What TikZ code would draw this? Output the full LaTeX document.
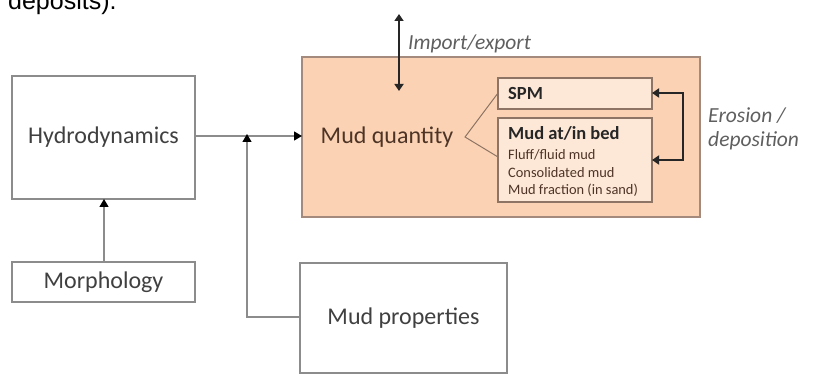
\documentclass[tikz,border=0pt]{standalone}
\usepackage{fontspec}
\setmainfont{Carlito}
\newfontfamily\captionfont{Liberation Sans}
\usetikzlibrary{arrows.meta}

\definecolor{boxline}{HTML}{8C8C8C}
\definecolor{txt}{HTML}{404040}
\definecolor{mudfill}{HTML}{FBD3B4}
\definecolor{mudline}{HTML}{A48A7C}
\definecolor{subfill}{HTML}{FDE8D8}
\definecolor{subline}{HTML}{8E7464}
\definecolor{mudtxt}{HTML}{4E3426}
\definecolor{note}{HTML}{5F5F5F}

\tikzset{
  plainbox/.style={draw=boxline, line width=1.4pt, fill=white},
  label/.style={text=txt, font=\fontsize{24}{26}\selectfont, inner sep=0pt},
  subbox/.style={draw=subline, line width=1.3pt, fill=subfill},
  link/.style={draw=boxline, line width=1.3pt, -{Triangle[length=8pt,width=9pt,color=black]}},
  flux/.style={draw=black!85, line width=2.6pt, {Triangle[length=7pt,width=9pt]}-{Triangle[length=7pt,width=9pt]}},
  italnote/.style={text=note, font=\itshape\fontsize{21.5}{24}\selectfont, inner sep=0pt, anchor=base west},
  boldline/.style={anchor=west, inner sep=0pt, text=black!85, font=\bfseries\fontsize{18.5}{20}\selectfont},
  smallline/.style={anchor=west, inner sep=0pt, text=mudtxt, font=\fontsize{14.4}{16}\selectfont},
}

\begin{document}
\begin{tikzpicture}[x=1pt, y=-1pt]
  \useasboundingbox (0,0) rectangle (829,379);

  % caption fragment at the top edge
  \begin{scope}
    \clip (0,0) rectangle (829,379);
    \node[anchor=base west, inner sep=0pt, text=black, font=\captionfont\fontsize{25}{28}\selectfont] (cap) at (8,10) {deposits).};
  \end{scope}

  % boxes
  \draw[plainbox] (12,76) rectangle (195,199);
  \node[label] (hydro) at (103.5,137.5) {Hydrodynamics};
  \draw[plainbox] (12,262) rectangle (195,302);
  \node[label] (morph) at (103.5,282) {Morphology};
  \draw[plainbox] (300,263) rectangle (507,373);
  \node[label] (props) at (403.5,318) {Mud properties};

  % mud quantity compartment
  \draw[draw=mudline, fill=mudfill, line width=1.3pt] (302,57) rectangle (700,217);
  \node[text=mudtxt, font=\fontsize{24}{26}\selectfont, inner sep=0pt] (qty) at (387,137) {Mud quantity};

  \draw[subbox] (498,78) rectangle (652,109);
  \node[boldline] (spm) at (508,93.5) {SPM};
  \draw[subbox] (498,118) rectangle (652,202);
  \node[boldline] (bed) at (508,133) {Mud at/in bed};
  \node[smallline] (fluff) at (508,155) {Fluff/fluid mud};
  \node[smallline] (cons) at (508,172.5) {Consolidated mud};
  \node[smallline] (frac) at (508,190) {Mud fraction (in sand)};

  % bracket from Mud quantity to its two parts
  \coordinate (fork) at (465,137);
  \coordinate (forkA) at (498,93);
  \coordinate (forkB) at (498,157);
  \draw[draw=subline, line width=1pt] (forkA) -- (fork) -- (forkB);

  % connectors
  \coordinate (hydroE) at (195,136);
  \coordinate (qtyW) at (302,136);
  \draw[link] (hydroE) -- (qtyW);
  \coordinate (join) at (247,136);
  \coordinate (propsW) at (300,317);
  \draw[link] (propsW) -- (247,317) -- ([yshift=2pt]join);
  \coordinate (morphN) at (104,262);
  \coordinate (hydroS) at (104,199);
  \draw[link] (morphN) -- (hydroS);

  % import / export
  \coordinate (ieTop) at (399,14);
  \coordinate (ieBot) at (399,91);
  \draw[flux] (ieTop) -- (ieBot);
  \node[italnote] (ie) at (408,50) {Import/export};

  % erosion / deposition loop
  \coordinate (spmE) at (652,93);
  \coordinate (bedE) at (652,160);
  \draw[flux, line width=2.4pt] (spmE) -- (683,93) -- (683,160) -- (bedE);
  \node[italnote] (ero) at (708,123) {Erosion /};
  \node[italnote] (dep) at (708,147) {deposition};
\end{tikzpicture}
\end{document}
